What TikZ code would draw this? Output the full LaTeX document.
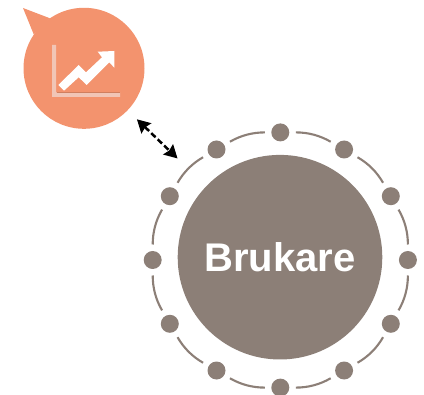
\documentclass[tikz,border=0pt]{standalone}
\usepackage{fontspec}
\setmainfont{Liberation Sans}
\usetikzlibrary{arrows.meta,calc}
\definecolor{brukarebrown}{HTML}{8C7F77}
\definecolor{chartorange}{HTML}{F3936E}
\definecolor{chartaxis}{HTML}{F1C5B6}
\definecolor{chartshade}{HTML}{D07F5F}
\begin{document}
\begin{tikzpicture}[x=1pt, y=-1pt]
  \tikzstyle{hub} = [circle, fill=brukarebrown, text=white, minimum size=204.6pt, inner sep=0pt, outer sep=0pt, font=\bfseries\fontsize{40}{40}\selectfont]
  \tikzstyle{bubble} = [circle, fill=chartorange, minimum size=121pt, inner sep=0pt, outer sep=0pt]
  \tikzstyle{ringdot} = [circle, fill=brukarebrown, minimum size=18pt, inner sep=0pt, outer sep=0pt]
  \tikzstyle{ringline} = [draw=brukarebrown, line width=2.1pt, shorten <=6.5pt, shorten >=6.5pt]
  \useasboundingbox (0,0) rectangle (424,395);

  \node [hub] (user) at (280,257.2) {Brukare};
  \node [bubble] (chart) at (84,68.3) {};
  \fill [chartorange] (23,8) -- (50,18.3) -- (33.7,34.3) -- cycle;

  % icon inside the bubble
  \fill [chartaxis] (52,45) -- (56,45) -- (56,92.5) -- (120,92.5) -- (120,97) -- (52,97) -- cycle;
  \draw [chartshade, line width=0.7pt] (57,92) -- (120,92);
  \fill [white] (58.3,85) -- (78.7,65) -- (86,72.3) -- (102,57.3) -- (97.7,51.7) -- (114.3,51) -- (114.3,67.7) -- (109.3,62.3) -- (86.7,85) -- (78.7,77.3) -- (64,90.7) -- cycle;

  % ring of dots round the user
  \coordinate (ring) at (280.3,260);
  \foreach \i in {0,...,11} {
    \node [ringdot] (dot\i) at ($(ring)+(\i*30:127.6)$) {};
  }
  \foreach \i [remember=\i as \j (initially 11)] in {0,...,11} {
    \draw [ringline] (dot\j) to[bend left=15] (dot\i);
  }

  \draw [{Stealth[length=13pt,width=14pt,inset=1.5pt]}-{Stealth[length=13pt,width=14pt,inset=1.5pt]}, line width=2.5pt, dash pattern=on 6pt off 3pt, shorten <=13pt, shorten >=40pt] (chart) -- (user);
\end{tikzpicture}
\end{document}
